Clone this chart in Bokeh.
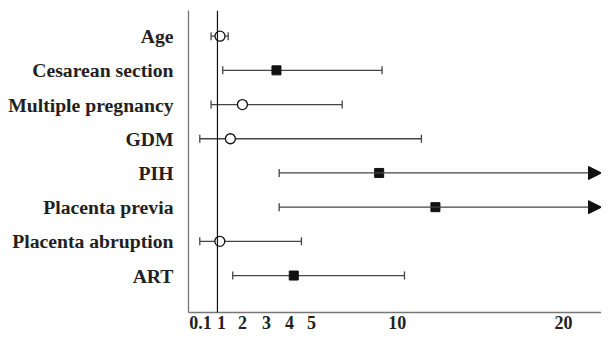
import numpy as np
from bokeh.plotting import figure
from bokeh.models import Range1d, FixedTicker, Span, Arrow, NormalHead, ColumnDataSource
from bokeh.embed import file_html
from bokeh.resources import INLINE

# ---- data ----
factors = ["Age", "Cesarean section", "Multiple pregnancy", "GDM", "PIH",
           "Placenta previa", "Placenta abruption", "ART"]
estimate = [1.14, 4.24, 2.37, 1.71, 9.88, 12.97, 1.13, 5.19]
ci_low = [0.65, 1.29, 0.65, 0.03, 4.39, 4.39, 0.03, 1.84]
ci_high = [1.59, 10.04, 7.85, 12.20, 25.0, 25.0, 5.61, 11.27]   # PIH / previa run off the axis
significant = [False, True, False, False, True, True, False, True]

tick_labels = ["0.1", "1", "2", "3", "4", "5", "10", "20"]
tick_at = [0.07, 1.22, 2.37, 3.69, 4.95, 6.16, 10.88, 20.0]   # where the reference prints them
ref_value = 1
x_min, x_max = -0.59, 22.09

TXT = "#231f20"
LINE = "#444444"
FONT = "Liberation Serif"

n = len(factors)
ypos = [n - i for i in range(n)]

p = figure(width=601, height=334, output_backend="svg", toolbar_location=None,
           x_range=Range1d(x_min, x_max), y_range=Range1d(-0.08, 8.75),
           min_border_left=188, min_border_right=0, min_border_top=10, min_border_bottom=22)
p.outline_line_color = None
p.xgrid.visible = False
p.ygrid.visible = False
p.background_fill_color = "white"
p.border_fill_color = "white"

# axes
p.yaxis.ticker = FixedTicker(ticks=ypos)
p.yaxis.major_label_overrides = {y: f for y, f in zip(ypos, factors)}
p.xaxis.ticker = FixedTicker(ticks=tick_at)
p.xaxis.major_label_overrides = {t: l for t, l in zip(tick_at, tick_labels)}
for ax in (p.xaxis, p.yaxis):
    ax.axis_line_color = "#777777"
    ax.axis_line_width = 1.3
    ax.major_tick_line_color = None
    ax.minor_tick_line_color = None
    ax.major_tick_out = 0
    ax.major_tick_in = 0
    ax.major_label_text_font = FONT
    ax.major_label_text_font_style = "bold"
    ax.major_label_text_color = TXT
p.yaxis.major_label_text_font_size = "19.7px"
p.yaxis.major_label_standoff = 15
p.xaxis.major_label_text_font_size = "18px"
p.xaxis.major_label_standoff = 3

# reference line at 1
p.add_layout(Span(location=ref_value, dimension="height", line_color="#111111", line_width=1.2))

# split rows: ending inside the axis vs running off it
inside = [i for i in range(n) if ci_high[i] <= x_max]
off = [i for i in range(n) if ci_high[i] > x_max]

src_in = ColumnDataSource(dict(y=[ypos[i] for i in inside],
                               lo=[ci_low[i] for i in inside],
                               hi=[ci_high[i] for i in inside]))
p.segment(x0="lo", y0="y", x1="hi", y1="y", source=src_in, line_color=LINE, line_width=1.3)
p.scatter(x="hi", y="y", source=src_in, marker="dash", angle=np.pi / 2, size=8,
          line_color=LINE, line_width=1.3)

src_all = ColumnDataSource(dict(y=ypos, lo=ci_low))
p.scatter(x="lo", y="y", source=src_all, marker="dash", angle=np.pi / 2, size=8,
          line_color=LINE, line_width=1.3)

src_off = ColumnDataSource(dict(y=[ypos[i] for i in off],
                                lo=[ci_low[i] for i in off],
                                hi=[x_max for i in off]))
p.add_layout(Arrow(source=src_off, x_start="lo", y_start="y", x_end="hi", y_end="y",
                   line_color=LINE, line_width=1.3,
                   end=NormalHead(size=13, fill_color="#111111", line_color="#111111")))

# point estimates
sq = [i for i in range(n) if significant[i]]
ci = [i for i in range(n) if not significant[i]]
p.scatter(x=[estimate[i] for i in sq], y=[ypos[i] for i in sq], marker="square", size=9,
          fill_color="#111111", line_color="#111111")
p.scatter(x=[estimate[i] for i in ci], y=[ypos[i] for i in ci], marker="circle", size=10,
          fill_color="white", line_color="#111111", line_width=1.3)

open("out.html", "w").write(file_html(p, INLINE))
